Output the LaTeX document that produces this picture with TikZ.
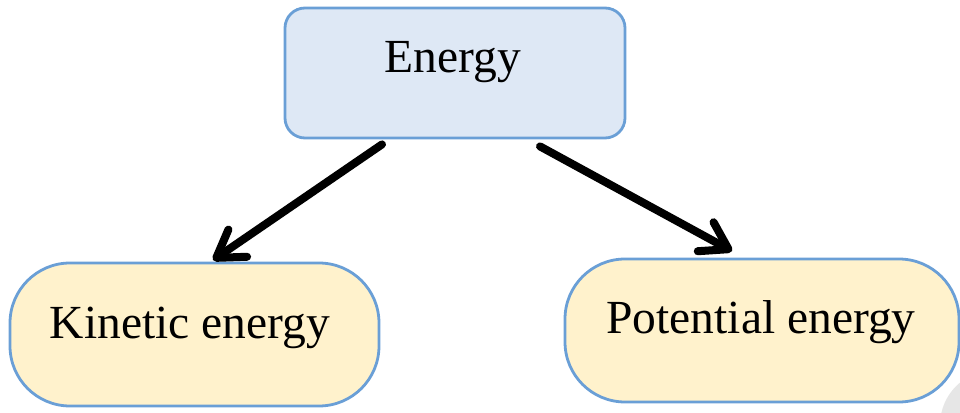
\documentclass[tikz,border=0pt]{standalone}
\usepackage{fontspec}
\setmainfont{Liberation Serif}
\usetikzlibrary{arrows.meta}
\definecolor{bordc}{HTML}{6A9FD6}
\definecolor{bluefill}{HTML}{DEE8F5}
\definecolor{yelfill}{HTML}{FFF2CC}
\definecolor{shadowgray}{HTML}{E6E6E6}
\tikzset{
  topbox/.style={draw=bordc, fill=bluefill, line width=2.8pt, rounded corners=20pt, inner sep=0pt},
  leafbox/.style={draw=bordc, fill=yelfill, line width=2.8pt, rounded corners=60pt, inner sep=0pt},
  lbl/.style={anchor=base, inner sep=0pt, font=\fontsize{47.5}{52}\selectfont},
  arr/.style={line width=8pt, line cap=round, line join=round,
    -{Straight Barb[length=26pt, width=33pt, round]}}
}
\begin{document}
\begin{tikzpicture}[x=1pt, y=1pt]
\useasboundingbox (0,0) rectangle (960,412);
\begin{scope}
\clip (0,0) rectangle (960,412);
\fill[shadowgray] (995,-13) circle (55);
\end{scope}
\node[topbox, minimum width=340pt, minimum height=130pt] (e) at (455,339) {};
\node[lbl] (et) at (453,339) {Energy};
\node[leafbox, minimum width=369pt, minimum height=143pt] (k) at (194.5,77.5) {};
\node[lbl] (kt) at (190,73) {Kinetic energy};
\node[leafbox, minimum width=394pt, minimum height=143pt] (p) at (762,81.5) {};
\node[lbl] (pt) at (761,78) {Potential energy};
\draw[arr] ([xshift=-73pt,yshift=-5pt]e.south) -- ([xshift=18.5pt,yshift=1.5pt]k.north);
\draw[arr] ([xshift=85pt,yshift=-7pt]e.south) -- ([xshift=-30pt,yshift=6.5pt]p.north);
\end{tikzpicture}
\end{document}
